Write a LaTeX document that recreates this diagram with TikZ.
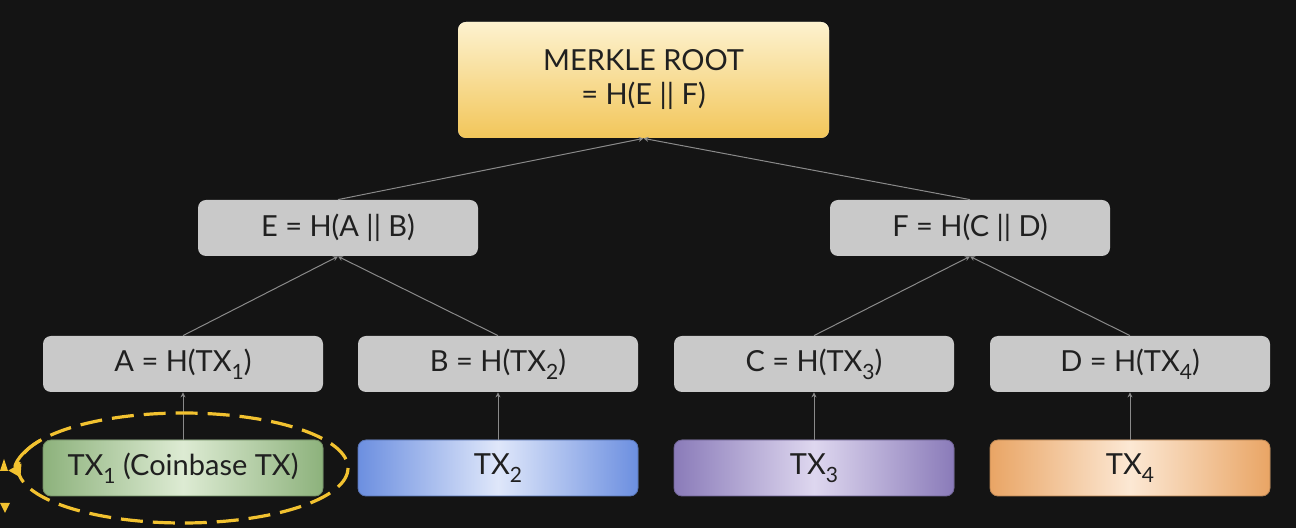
\documentclass[tikz,border=0pt]{standalone}
\usepackage{fontspec}
\setmainfont{Lato}
\usetikzlibrary{arrows.meta,calc}

\definecolor{bgdark}{HTML}{141414}
\definecolor{hashgray}{HTML}{C9C9C9}
\definecolor{linkgray}{HTML}{8A8A8A}
\definecolor{txtdark}{HTML}{202020}
\definecolor{rootlight}{HTML}{FDF2CF}
\definecolor{rootgold}{HTML}{F2C65A}
\definecolor{greenedge}{HTML}{8DB27C}
\definecolor{greenmid}{HTML}{DDEBD3}
\definecolor{blueedge}{HTML}{6C8FE0}
\definecolor{bluemid}{HTML}{DFE7FA}
\definecolor{purpleedge}{HTML}{8A7BB9}
\definecolor{purplemid}{HTML}{DED7EF}
\definecolor{orangeedge}{HTML}{E9A565}
\definecolor{orangemid}{HTML}{FCE8D4}
\definecolor{coinyellow}{HTML}{F2C230}

\newcommand{\txsub}[1]{\raisebox{-0.55ex}{\fontsize{10.5}{11}\selectfont #1}}

\begin{document}
\begin{tikzpicture}[x=0.5pt,y=-0.5pt,
		hashbox/.style={fill=hashgray,rounded corners=4pt,minimum width=140pt,minimum height=28pt,
			text=txtdark,font=\fontsize{14.5}{17}\selectfont},
		txbox/.style={hashbox,draw=#1edge!80!black,line width=0.4pt,
			left color=#1edge,right color=#1edge,middle color=#1mid},
		link/.style={draw=linkgray,line width=0.5pt,-{Stealth[length=2.5pt,width=2.5pt]}},
		coinbase/.style={draw=coinyellow,line width=1.6pt,dash pattern=on 11pt off 5pt}
	]
	\fill[bgdark] (0,0) rectangle (1296,528);
	\useasboundingbox (0,0) rectangle (1296,528);

	% root
	\node[hashbox,minimum width=185.5pt,minimum height=58pt,top color=rootlight,bottom color=rootgold,
		align=center,font=\fontsize{14.5}{17}\selectfont] (root) at (643.5,80) {MERKLE ROOT\\= H(E || F)};

	% hashes
	\node[hashbox] (E) at (338,228) {E = H(A || B)};
	\node[hashbox] (F) at (970,228) {F = H(C || D)};
	\node[hashbox] (A) at (183,364) {A = H(TX\txsub{1})};
	\node[hashbox] (B) at (498,364) {B = H(TX\txsub{2})};
	\node[hashbox] (C) at (814,364) {C = H(TX\txsub{3})};
	\node[hashbox] (D) at (1130,364) {D = H(TX\txsub{4})};

	% transactions
	\node[txbox=green] (tx1) at (183,468) {TX\txsub{1} (Coinbase TX)};
	\node[txbox=blue] (tx2) at (498,468) {TX\txsub{2}};
	\node[txbox=purple] (tx3) at (814,468) {TX\txsub{3}};
	\node[txbox=orange] (tx4) at (1130,468) {TX\txsub{4}};

	\draw[link] (E.north) -- (root.south);
	\draw[link] (F.north) -- (root.south);
	\draw[link] (A.north) -- (E.south);
	\draw[link] (B.north) -- (E.south);
	\draw[link] (C.north) -- (F.south);
	\draw[link] (D.north) -- (F.south);
	\draw[link] (tx1.north) -- (A.south);
	\draw[link] (tx2.north) -- (B.south);
	\draw[link] (tx3.north) -- (C.south);
	\draw[link] (tx4.north) -- (D.south);

	% coinbase mark
	\draw[coinbase] (tx1) ellipse [x radius=165,y radius=55];
	\draw[draw=coinyellow,line width=1.6pt,-{Triangle[length=6pt,width=7pt]}]
		($(tx1)+(210:165 and 55)$) arc[start angle=210,end angle=170,x radius=165,y radius=55];
	\fill[coinyellow] (0,471) -- (4,459) -- (8,471) -- cycle;
	\fill[coinyellow] (0,503) -- (10,503) -- (5,513) -- cycle;
\end{tikzpicture}
\end{document}
